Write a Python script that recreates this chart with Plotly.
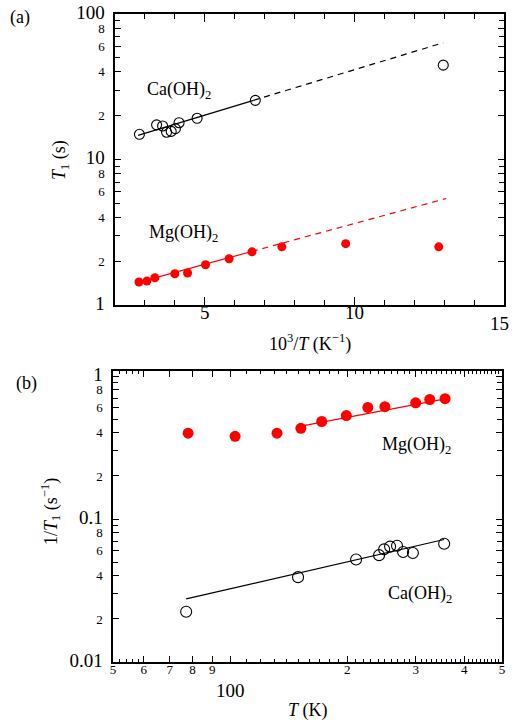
import numpy as np
import plotly.graph_objects as go

# ---------------- data ----------------
ca_T = [355, 295, 278.5, 268.6, 257.8, 248.9, 241.5, 210.8, 149.5, 77.1]      # K
ca_T1 = [14.9, 17.3, 17.0, 15.4, 15.6, 16.3, 17.9, 19.2, 25.5, 44.5]           # s
mg_T = [357, 326, 300, 250, 226, 199, 172, 152, 132, 103, 78]                   # K
mg_T1 = [1.44, 1.46, 1.54, 1.64, 1.66, 1.89, 2.08, 2.32, 2.51, 2.64, 2.51]     # s

# Arrhenius fits for panel (a): log10(T1) = logA + slope * (1000/T)
ca_arr_logA, ca_arr_slope = 0.993, 0.0624
ca_arr_solid = [2.77, 6.63]
ca_arr_dash = [6.63, 12.97]
mg_arr_logA, mg_arr_slope = 0.0, 0.056
mg_arr_solid = [2.72, 6.57]
mg_arr_dash = [6.57, 13.07]

# power-law fits for panel (b): log10(1/T1) = logC + n * log10(T)
ca_pow_logC, ca_pow_n = -2.740, 0.626
ca_pow_range = [77.1, 355]
mg_pow_logC, mg_pow_n = -1.474, 0.515
mg_pow_range = [151, 357]

# tick definitions
a_x_major = [5, 10, 15]
a_x_labels = ["5", "10", ""]          # "15" drawn separately (sits on the page edge)
a_x_minor = [3, 4, 6, 7, 8, 9, 11, 12, 13, 14]
a_y_major = [1, 2, 4, 6, 8, 10, 20, 40, 60, 80, 100]
a_y_minor = [3, 5, 7, 9, 30, 50, 70, 90]
b_x_major = [50, 60, 70, 80, 90, 100, 200, 300, 400, 500]
b_x_labels = ["5", "6", "7", "8", "9", "", "2", "3", "4", "5"]
b_x_minor = [52, 54, 56, 58] + list(range(110, 200, 10)) + list(range(210, 300, 10)) \
    + list(range(310, 400, 10)) + list(range(410, 500, 10))
b_y_major = [0.01, 0.02, 0.04, 0.06, 0.08, 0.1, 0.2, 0.4, 0.6, 0.8, 1]
b_y_minor = [0.03, 0.05, 0.07, 0.09, 0.3, 0.5, 0.7, 0.9]

W, H = 512, 723
FONT = "Liberation Serif"
RED = "#ff0000"


def big(s):
    return "<span style='font-size:19px'>%s</span>" % s if s else ""


def lab_log(v):
    if v in (1, 10, 100, 0.01, 0.1):
        return big("%g" % v)
    return "%d" % round(v / 10 ** np.floor(np.log10(v) + 1e-9))


fig = go.Figure()

# ---------------- panel (a) ----------------
ca_x = [1000.0 / t for t in ca_T]
mg_x = [1000.0 / t for t in mg_T]


def arr(logA, slope, xs):
    return [10 ** (logA + slope * x) for x in xs]


fig.add_trace(go.Scatter(x=ca_arr_solid, y=arr(ca_arr_logA, ca_arr_slope, ca_arr_solid),
                         mode="lines", line=dict(color="black", width=1.2),
                         xaxis="x", yaxis="y", showlegend=False))
fig.add_trace(go.Scatter(x=ca_arr_dash, y=arr(ca_arr_logA, ca_arr_slope, ca_arr_dash),
                         mode="lines", line=dict(color="black", width=1.2, dash="6px,5px"),
                         xaxis="x", yaxis="y", showlegend=False))
fig.add_trace(go.Scatter(x=mg_arr_solid, y=arr(mg_arr_logA, mg_arr_slope, mg_arr_solid),
                         mode="lines", line=dict(color=RED, width=1.2),
                         xaxis="x", yaxis="y", showlegend=False))
fig.add_trace(go.Scatter(x=mg_arr_dash, y=arr(mg_arr_logA, mg_arr_slope, mg_arr_dash),
                         mode="lines", line=dict(color=RED, width=1.2, dash="6px,5px"),
                         xaxis="x", yaxis="y", showlegend=False))
fig.add_trace(go.Scatter(x=ca_x, y=ca_T1, mode="markers",
                         marker=dict(symbol="circle-open", size=10, color="black",
                                     line=dict(width=1.1, color="black")),
                         xaxis="x", yaxis="y", showlegend=False))
fig.add_trace(go.Scatter(x=mg_x, y=mg_T1, mode="markers",
                         marker=dict(symbol="circle", size=9, color=RED),
                         xaxis="x", yaxis="y", showlegend=False))

# ---------------- panel (b) ----------------
ca_R = [1.0 / v for v in ca_T1]
mg_R = [1.0 / v for v in mg_T1]


def pw(logC, n, Ts):
    return [10 ** (logC + n * np.log10(t)) for t in Ts]


fig.add_trace(go.Scatter(x=ca_pow_range, y=pw(ca_pow_logC, ca_pow_n, ca_pow_range),
                         mode="lines", line=dict(color="black", width=1.2),
                         xaxis="x2", yaxis="y2", showlegend=False))
fig.add_trace(go.Scatter(x=mg_pow_range, y=pw(mg_pow_logC, mg_pow_n, mg_pow_range),
                         mode="lines", line=dict(color=RED, width=1.2),
                         xaxis="x2", yaxis="y2", showlegend=False))
fig.add_trace(go.Scatter(x=ca_T, y=ca_R, mode="markers",
                         marker=dict(symbol="circle-open", size=11, color="black",
                                     line=dict(width=1.1, color="black")),
                         xaxis="x2", yaxis="y2", showlegend=False))
fig.add_trace(go.Scatter(x=mg_T, y=mg_R, mode="markers",
                         marker=dict(symbol="circle", size=11, color=RED),
                         xaxis="x2", yaxis="y2", showlegend=False))

axis_common = dict(showgrid=False, zeroline=False, showline=True, linecolor="black",
                   linewidth=1.5, ticks="inside", mirror="allticks", tickcolor="black",
                   tickwidth=1, ticklabeloverflow="allow", automargin=False,
                   tickfont=dict(family=FONT, size=13, color="black"))


def minor(vals, ln=4):
    return dict(tickmode="array", tickvals=vals, ticks="inside", ticklen=ln,
                tickcolor="black", tickwidth=1, showgrid=False)


fig.update_layout(
    width=W, height=H, autosize=False, showlegend=False,
    margin=dict(l=0, r=0, t=0, b=0, pad=0, autoexpand=False),
    paper_bgcolor="white", plot_bgcolor="white",
    font=dict(family=FONT, color="black"),
    xaxis=dict(axis_common, domain=[115 / W, 504 / W], anchor="y", range=[2, 15],
               tickmode="array", tickvals=a_x_major,
               ticktext=[big(s) for s in a_x_labels], ticklen=8,
               minor=minor(a_x_minor, 5), ticklabelstandoff=-3),
    yaxis=dict(axis_common, domain=[1 - 305 / H, 1 - 14 / H], anchor="x", type="log",
               range=[0, 2], tickmode="array", tickvals=a_y_major,
               ticktext=[lab_log(v) for v in a_y_major], ticklen=6,
               minor=minor(a_y_minor, 5), ticklabelstandoff=6),
    xaxis2=dict(axis_common, domain=[113 / W, 502 / W], anchor="y2", type="log",
                range=[np.log10(50), np.log10(500)], tickmode="array",
                tickvals=b_x_major, ticktext=b_x_labels, ticklen=6,
                minor=minor(b_x_minor, 3), ticklabelstandoff=-5),
    yaxis2=dict(axis_common, domain=[1 - 662 / H, 1 - 371 / H], anchor="x2", type="log",
                range=[-2, 0.035], tickmode="array", tickvals=b_y_major,
                ticktext=[lab_log(v) for v in b_y_major], ticklen=6,
                minor=minor(b_y_minor, 5), ticklabelstandoff=6),
)


def ann(text, px, py, size=17, angle=0, xanchor="center"):
    fig.add_annotation(text=text, x=px / W, y=1 - py / H, xref="paper", yref="paper",
                       showarrow=False, textangle=angle, xanchor=xanchor, yanchor="middle",
                       font=dict(family=FONT, size=size, color="black"))


ann("(a)", 20, 17, 18)
ann("(b)", 26, 383, 18)
ann("Ca(OH)<sub>2</sub>", 179, 90, 18)
ann("Mg(OH)<sub>2</sub>", 183, 234, 18)
ann("Mg(OH)<sub>2</sub>", 416, 445, 18)
ann("Ca(OH)<sub>2</sub>", 420, 594, 18)
ann("10<sup>3</sup>/<i>T</i> (K<sup>−1</sup>)", 310, 343, 18)
ann("<i>T</i><sub>1</sub> (s)", 60, 160, 18, angle=-90)
ann("1/<i>T</i><sub>1</sub> (s<sup>−1</sup>)", 50, 512, 18, angle=-90)
ann("<i>T</i> (K)", 308, 710, 18)
ann("100", 230, 690, 19)
ann(str(a_x_major[-1]), 511, 323, 19, xanchor="right")

fig.write_html("out.html", config={"displayModeBar": False},
               post_script="document.body.style.margin='0px';"
                           "document.body.style.overflow='hidden';")
